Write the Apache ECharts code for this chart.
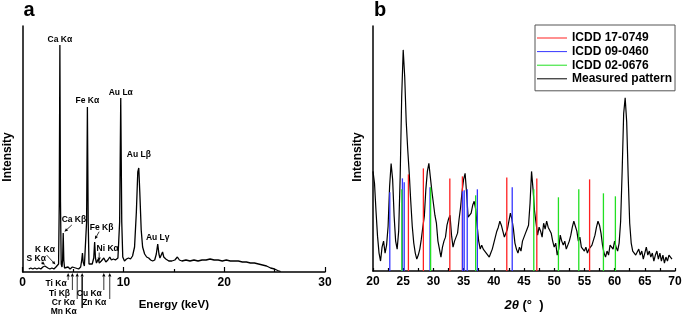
<!DOCTYPE html>
<html>
<head>
<meta charset="utf-8">
<script src="https://cdn.jsdelivr.net/npm/echarts@6/dist/echarts.min.js"></script>
<style>
  html, body { margin: 0; padding: 0; background: #fff; }
  #chart { width: 685px; height: 317px; }
</style>
</head>
<body>
<div id="chart"></div>
<script>
const FONT = 'Liberation Sans, Arial, sans-serif';

// ---- panel a : EDS spectrum, [keV, counts] ----
const edsSpectrum = [
  [0.6, 3], [0.8, 4], [1.0, 3], [1.2, 4], [1.4, 3], [1.6, 4], [1.8, 3], [2.0, 5], [2.2, 6], [2.35, 7],
  [2.5, 4], [2.7, 3], [2.9, 4], [3.1, 3], [3.3, 5], [3.45, 4], [3.56, 8], [3.63, 70], [3.69, 227], [3.75, 70],
  [3.82, 8], [3.9, 5], [3.96, 12], [4.02, 39], [4.08, 12], [4.15, 4], [4.3, 3], [4.5, 5], [4.7, 3], [4.93, 5],
  [5.1, 3], [5.25, 4], [5.41, 5], [5.55, 3], [5.75, 5], [5.86, 12], [5.93, 19], [6.0, 10], [6.12, 6], [6.25, 8],
  [6.34, 50], [6.42, 165], [6.5, 50], [6.58, 8], [6.7, 6], [6.9, 8], [7.05, 14], [7.14, 30], [7.22, 14], [7.32, 9],
  [7.42, 11], [7.5, 13], [7.6, 9], [7.8, 11], [8.05, 14], [8.25, 10], [8.45, 12], [8.64, 15], [8.8, 12], [9.0, 13],
  [9.2, 12], [9.45, 14], [9.62, 50], [9.73, 174], [9.83, 50], [9.93, 15], [10.1, 11], [10.3, 13], [10.5, 14], [10.7, 13],
  [10.9, 16], [11.1, 25], [11.28, 60], [11.42, 100], [11.52, 104], [11.62, 80], [11.76, 42], [11.9, 25], [12.1, 18], [12.3, 15],
  [12.5, 14], [12.7, 12], [12.9, 11], [13.1, 12], [13.26, 18], [13.4, 28], [13.52, 18], [13.62, 14], [13.75, 17], [13.88, 20],
  [14.0, 15], [14.2, 13], [14.5, 11], [14.8, 11], [15.1, 12], [15.35, 15], [15.55, 12], [15.8, 11], [16.2, 12], [16.6, 11],
  [17.0, 12], [17.4, 11], [17.8, 12], [18.2, 12], [18.6, 13], [19.0, 12], [19.4, 12], [19.8, 11], [20.2, 12], [20.6, 11],
  [21.0, 11], [21.4, 11], [21.8, 10], [22.2, 10], [22.6, 9], [23.0, 9], [23.4, 8], [23.8, 7], [24.2, 6], [24.6, 4],
  [25.0, 3], [25.3, 1.5], [25.6, 0.5]
];

// labels above the big peaks
const edsTopLabels = ['Ca Kα', 'Fe Kα', 'Au Lα', 'Au Lβ', 'Au Lγ'];
const edsTopKeV = [3.69, 6.42, 9.73, 11.52, 13.4];
// labels with an arrow to a small peak
const edsSideLabels = ['Ca Kβ', 'Fe Kβ', 'Ni Kα', 'K Kα', 'S Kα'];
const edsSideKeV = [4.02, 7.14, 7.5, 3.31, 2.31];
// labels under the axis with an arrow up
const edsAxisLabels = ['Ti Kα', 'Ti Kβ', 'Cr Kα', 'Mn Kα', 'Cu Kα', 'Zn Kα'];
const edsAxisKeV = [4.51, 4.93, 5.41, 5.90, 8.05, 8.64];

// ---- panel b : XRD ----
const xrdStart = 20;
const xrdStep = 0.25;
const xrdMeasured = [
  100, 88, 60, 35, 18, 10, 24, 30, 18, 26, 45, 85, 108, 92, 55, 30,
  22, 40, 95, 175, 222, 195, 150, 122, 98, 70, 45, 28, 18, 12, 16, 22,
  32, 44, 55, 82, 100, 108, 94, 80, 68, 56, 48, 30, 22, 14, 24, 30,
  34, 46, 52, 56, 36, 24, 30, 34, 38, 52, 64, 80, 92, 98, 78, 54,
  52, 58, 66, 70, 62, 45, 30, 22, 26, 22, 24, 18, 20, 14, 18, 22,
  28, 34, 40, 44, 50, 46, 40, 34, 32, 42, 50, 58, 52, 42, 28, 22,
  18, 24, 20, 30, 34, 38, 42, 46, 68, 100, 82, 60, 48, 36, 44, 40,
  34, 48, 42, 50, 44, 46, 38, 30, 24, 28, 16, 22, 36, 30, 26, 30,
  22, 26, 30, 36, 44, 50, 48, 40, 30, 34, 24, 26, 20, 24, 18, 22,
  20, 26, 28, 36, 44, 50, 46, 38, 26, 18, 14, 20, 16, 26, 28, 22,
  30, 24, 20, 28, 50, 100, 158, 174, 150, 95, 48, 28, 20, 22, 16, 18,
  22, 16, 20, 12, 18, 24, 16, 20, 14, 18, 10, 16, 20, 12, 18, 10,
  16, 8, 14, 10, 16, 14, 12
];
const icdd17Pos = [25.86, 28.34, 32.72, 34.8, 42.15, 47.12, 55.86];
const icdd17Int = [97, 103, 93, 95, 94, 93, 92];
const icdd09Pos = [22.78, 24.87, 25.17, 29.44, 34.82, 35.1, 35.6, 37.28, 43.05];
const icdd09Int = [79, 93, 89, 84, 80, 81, 82, 82, 84];
const icdd02Pos = [24.77, 29.54, 36.99, 46.62, 50.7, 54.07, 58.15, 60.13];
const icdd02Int = [82, 84, 76, 82, 74, 82, 78, 75];

const refNames = ['ICDD 17-0749', 'ICDD 09-0460', 'ICDD 02-0676'];
const refColors = ['#ff2020', '#3535ff', '#22e022'];

// --- build data ---
const xrdData = xrdMeasured.map((v, i) => [xrdStart + i * xrdStep, v]);
const zip = (a, b) => a.map((x, i) => [x, b[i]]);
const refData = [zip(icdd17Pos, icdd17Int), zip(icdd09Pos, icdd09Int), zip(icdd02Pos, icdd02Int)];

const LINE_ICON = 'path://M0,0 L30,0 L30,1 L0,1 Z';

const axisLine = { show: true, lineStyle: { color: '#000', width: 1.5 } };
const tickStyle = { color: '#000', width: 1.2 };
const labelStyle = { color: '#000', fontFamily: FONT, fontWeight: 'bold', fontSize: 12, margin: 5 };
const nameStyle = { color: '#000', fontFamily: FONT, fontWeight: 'bold', fontSize: 12 };

function refSeries(idx) {
  return {
    name: refNames[idx],
    type: 'custom',
    xAxisIndex: 1,
    yAxisIndex: 1,
    z: 5,
    itemStyle: { color: refColors[idx] },
    encode: { x: 0, y: 1 },
    data: refData[idx],
    renderItem: function (params, api) {
      const top = api.coord([api.value(0), api.value(1)]);
      const base = api.coord([api.value(0), 0]);
      return {
        type: 'line',
        shape: { x1: top[0], y1: top[1], x2: base[0], y2: base[1] },
        style: { stroke: api.visual('color'), lineWidth: 1.3 },
      };
    },
  };
}

const option = {
  animation: false,
  backgroundColor: '#fff',
  grid: [
    { left: 22.7, top: 26, width: 302.3, height: 246 },
    { left: 373, top: 26, width: 302, height: 246 },
  ],
  xAxis: [
    {
      type: 'value', gridIndex: 0, min: 0, max: 30, interval: 10,
      axisLine,
      axisTick: { inside: true, length: 5, lineStyle: tickStyle },
      minorTick: { show: true, splitNumber: 2, length: 3, lineStyle: tickStyle },
      axisLabel: labelStyle,
      splitLine: { show: false },
      name: 'Energy (keV)', nameLocation: 'middle', nameGap: 27,
      nameTextStyle: { ...nameStyle, fontSize: 11.5 },
    },
    {
      type: 'value', gridIndex: 1, min: 20, max: 70, interval: 5,
      axisLine,
      axisTick: { inside: true, length: 3, lineStyle: tickStyle },
      minorTick: { show: true, splitNumber: 2, length: 3, lineStyle: tickStyle },
      axisLabel: labelStyle,
      splitLine: { show: false },
      name: '{i|2θ} (°  )', nameLocation: 'middle', nameGap: 28,
      nameTextStyle: {
        ...nameStyle, fontSize: 13,
        rich: { i: { fontFamily: FONT, fontWeight: 'bold', fontStyle: 'italic', fontSize: 13, color: '#000' } },
      },
    },
  ],
  yAxis: [0, 1].map((g) => ({
    type: 'value', gridIndex: g, min: 0, max: 246,
    axisLine,
    axisTick: { show: false },
    axisLabel: { show: false },
    splitLine: { show: false },
  })),
  legend: {
    left: 535, top: 25,
    orient: 'vertical',
    backgroundColor: '#fff',
    borderColor: '#555', borderWidth: 1,
    padding: [7, 3, 6, 2],
    itemGap: 1.6, itemWidth: 30, itemHeight: 14,
    symbolKeepAspect: true,
    textStyle: { fontFamily: FONT, fontWeight: 'bold', fontSize: 12, color: '#000' },
    z: 20,
    data: [
      { name: refNames[0], icon: LINE_ICON, itemStyle: { color: refColors[0] } },
      { name: refNames[1], icon: LINE_ICON, itemStyle: { color: refColors[1] } },
      { name: refNames[2], icon: LINE_ICON, itemStyle: { color: refColors[2] } },
      { name: 'Measured pattern', icon: LINE_ICON, itemStyle: { color: '#000' } },
    ],
  },
  series: [
    {
      type: 'line', xAxisIndex: 0, yAxisIndex: 0,
      data: edsSpectrum, showSymbol: false, silent: true,
      lineStyle: { color: '#000', width: 1.3 },
    },
    {
      name: 'Measured pattern',
      type: 'line', xAxisIndex: 1, yAxisIndex: 1,
      data: xrdData, showSymbol: false, silent: true,
      itemStyle: { color: '#000' },
      lineStyle: { color: '#000', width: 1.2 },
    },
    refSeries(0), refSeries(1), refSeries(2),
  ],
};

const chart = echarts.init(document.getElementById('chart'));
chart.setOption(option);

// --- annotations (placed through the axes) ---
function specAt(e) {
  for (let i = 1; i < edsSpectrum.length; i++) {
    const [x0, y0] = edsSpectrum[i - 1];
    const [x1, y1] = edsSpectrum[i];
    if (e <= x1) return y0 + (y1 - y0) * (e - x0) / (x1 - x0);
  }
  return 0;
}
const px = (e, v) => chart.convertToPixel({ gridIndex: 0 }, [e, v]);

function text(str, x, y, align, size) {
  return {
    type: 'text', x, y, z: 30,
    style: {
      text: str, fill: '#000', align: align || 'center', verticalAlign: 'middle',
      font: 'bold ' + (size || 8.5) + 'px ' + FONT,
    },
  };
}
function arrow(x1, y1, x2, y2, w) {
  const ang = Math.atan2(y2 - y1, x2 - x1);
  const L = 3.5, H = 1.6;
  const bx = x2 - L * Math.cos(ang), by = y2 - L * Math.sin(ang);
  const nx = -Math.sin(ang) * H, ny = Math.cos(ang) * H;
  return [
    { type: 'line', z: 30, shape: { x1, y1, x2: bx, y2: by }, style: { stroke: '#000', lineWidth: w || 0.8 } },
    { type: 'polygon', z: 30, shape: { points: [[x2, y2], [bx + nx, by + ny], [bx - nx, by - ny]] }, style: { fill: '#000' } },
  ];
}

// pixel layout of the annotations
const topDy = [-5, -6, -5, -13, -6];
const sideLayout = [
  // text dx, dy, arrow from dx, dy, arrow to dx, dy
  [10.7, -13, 8.6, -8, 1.2, -1.3],
  [6.9, -14.7, 4.5, -10.3, 0.2, -2.7],
  [9.4, -10, 0.9, -6.5, 0.9, 2],
  [-11.1, -17.7, -9.4, -12, -0.6, -2.5],
  [-9.8, -6.7, -4.5, -3, -1, -0.6],
];
const axisLayout = [
  // text right dx, text dy, arrow tail dy, arrow width
  [-1.5, 12, 8, 0.8],
  [-2.4, 21.5, 18, 0.8],
  [-2.2, 31, 27, 0.8],
  [-5.5, 40, 36, 1.4],
  [-2, 21.5, 18, 0.8],
  [-3.5, 31, 27, 0.8],
];

const graphics = [
  text('a', 29, 10, 'center', 20),
  text('b', 380, 10, 'center', 20),
  Object.assign(text('Intensity', 8, 157, 'center', 12), { rotation: Math.PI / 2 }),
  Object.assign(text('Intensity', 358, 157, 'center', 12), { rotation: Math.PI / 2 }),
];

edsTopLabels.forEach((lab, i) => {
  const p = px(edsTopKeV[i], specAt(edsTopKeV[i]));
  graphics.push(text(lab, p[0], p[1] + topDy[i]));
});
edsSideLabels.forEach((lab, i) => {
  const p = px(edsSideKeV[i], specAt(edsSideKeV[i]));
  const l = sideLayout[i];
  graphics.push(text(lab, p[0] + l[0], p[1] + l[1]));
  graphics.push(...arrow(p[0] + l[2], p[1] + l[3], p[0] + l[4], p[1] + l[5]));
});
edsAxisLabels.forEach((lab, i) => {
  const p = px(edsAxisKeV[i], 0);
  const l = axisLayout[i];
  graphics.push(text(lab, p[0] + l[0], p[1] + l[1], 'right'));
  graphics.push(...arrow(p[0], p[1] + l[2], p[0], p[1] + 1, l[3]));
});

chart.setOption({ graphic: graphics });
</script>
</body>
</html>
